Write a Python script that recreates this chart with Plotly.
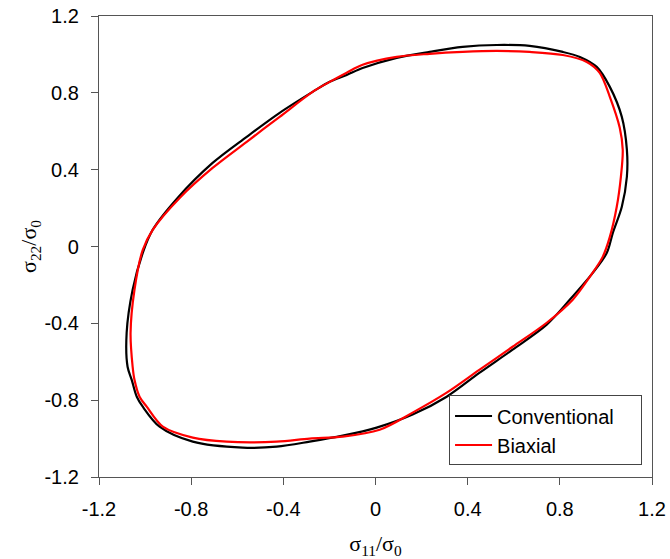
import plotly.graph_objects as go

# Conventional (black) yield locus
conv_s11 = [-0.199, -0.125, -0.056, 0.092, 0.235, 0.378, 0.526, 0.669, 0.813, 0.887, 0.960,
            1.017, 1.069, 1.091, 1.091, 1.069, 1.030, 1.004, 0.943, 0.843, 0.743, 0.595,
            0.452, 0.309, 0.161, 0.005, -0.142, -0.286, -0.429, -0.576, -0.793, -0.937,
            -1.010, -1.036, -1.058, -1.076, -1.080, -1.054, -1.010, -0.967, -0.859, -0.707,
            -0.559, -0.416, -0.273, -0.199]
conv_s22 = [0.858, 0.893, 0.929, 0.982, 1.013, 1.039, 1.049, 1.044, 1.013, 0.987, 0.935,
            0.831, 0.675, 0.504, 0.363, 0.207, 0.071, -0.033, -0.137, -0.277, -0.407, -0.537,
            -0.657, -0.782, -0.875, -0.943, -0.985, -1.016, -1.042, -1.047, -1.016, -0.938,
            -0.834, -0.782, -0.694, -0.626, -0.449, -0.225, -0.033, 0.087, 0.253, 0.435,
            0.571, 0.696, 0.805, 0.858]

# Biaxial (red) yield locus
biax_s11 = [-0.199, -0.125, -0.056, 0.092, 0.235, 0.378, 0.526, 0.669, 0.813, 0.917, 0.973,
            1.017, 1.060, 1.073, 1.065, 1.047, 1.017, 0.986, 0.930, 0.856, 0.743, 0.595,
            0.452, 0.309, 0.161, 0.018, -0.142, -0.286, -0.429, -0.646, -0.793, -0.923,
            -0.993, -1.024, -1.046, -1.054, -1.063, -1.046, -1.010, -0.967, -0.850, -0.707,
            -0.559, -0.416, -0.273, -0.199]
biax_s22 = [0.857, 0.905, 0.946, 0.987, 1.003, 1.013, 1.018, 1.013, 0.997, 0.961, 0.904,
            0.779, 0.618, 0.504, 0.363, 0.207, 0.050, -0.054, -0.158, -0.277, -0.397, -0.522,
            -0.641, -0.761, -0.865, -0.954, -0.990, -1.000, -1.016, -1.016, -0.995, -0.938,
            -0.834, -0.782, -0.694, -0.626, -0.449, -0.225, -0.017, 0.087, 0.253, 0.409,
            0.545, 0.675, 0.805, 0.857]

tick_vals = [-1.2, -0.8, -0.4, 0, 0.4, 0.8, 1.2]
tick_text = ["-1.2", "-0.8", "-0.4", "0", "0.4", "0.8", "1.2"]
series_names = ["Conventional", "Biaxial"]

pad = "\u00a0" * 4  # right padding inside the legend box

fig = go.Figure()
fig.add_trace(go.Scatter(x=conv_s11, y=conv_s22, mode="lines", name=series_names[0] + pad,
                         line=dict(color="black", width=2.2, shape="spline", smoothing=0.9)))
fig.add_trace(go.Scatter(x=biax_s11, y=biax_s22, mode="lines", name=series_names[1],
                         line=dict(color="#ff0000", width=2.2, shape="spline", smoothing=0.9)))

axis_common = dict(
    range=[-1.2, 1.2], tickvals=tick_vals, ticktext=tick_text,
    showgrid=False, zeroline=False, showline=True, mirror=True,
    linecolor="#555555", linewidth=1.3, ticks="outside", ticklen=7,
    tickcolor="#555555", tickwidth=1.3, automargin=False,
    tickfont=dict(family="Liberation Sans, Arial", size=20, color="black"),
)

fig.update_layout(
    width=670, height=559,
    margin=dict(l=99, r=18, t=16, b=82),
    paper_bgcolor="white", plot_bgcolor="white",
    font=dict(family="Liberation Sans, Arial", color="black"),
    xaxis=dict(**axis_common, ticklabelstandoff=7,
               title=dict(text="σ<sub>11</sub>/σ<sub>0</sub>",
                          font=dict(family="Liberation Serif, Times New Roman", size=22),
                          standoff=16)),
    yaxis=dict(**axis_common, ticklabelstandoff=8,
               title=dict(text="σ<sub>22</sub>/σ<sub>0</sub>",
                          font=dict(family="Liberation Serif, Times New Roman", size=22),
                          standoff=1)),
    legend=dict(x=0.982, y=0.025, xanchor="right", yanchor="bottom",
                bgcolor="white", bordercolor="#444444", borderwidth=1,
                font=dict(family="Liberation Sans, Arial", size=20),
                itemwidth=37, tracegroupgap=0),
    showlegend=True,
)

fig.write_html("out.html", config={"displayModeBar": False},
               post_script="document.body.style.margin='0px';document.body.style.overflow='hidden';")
